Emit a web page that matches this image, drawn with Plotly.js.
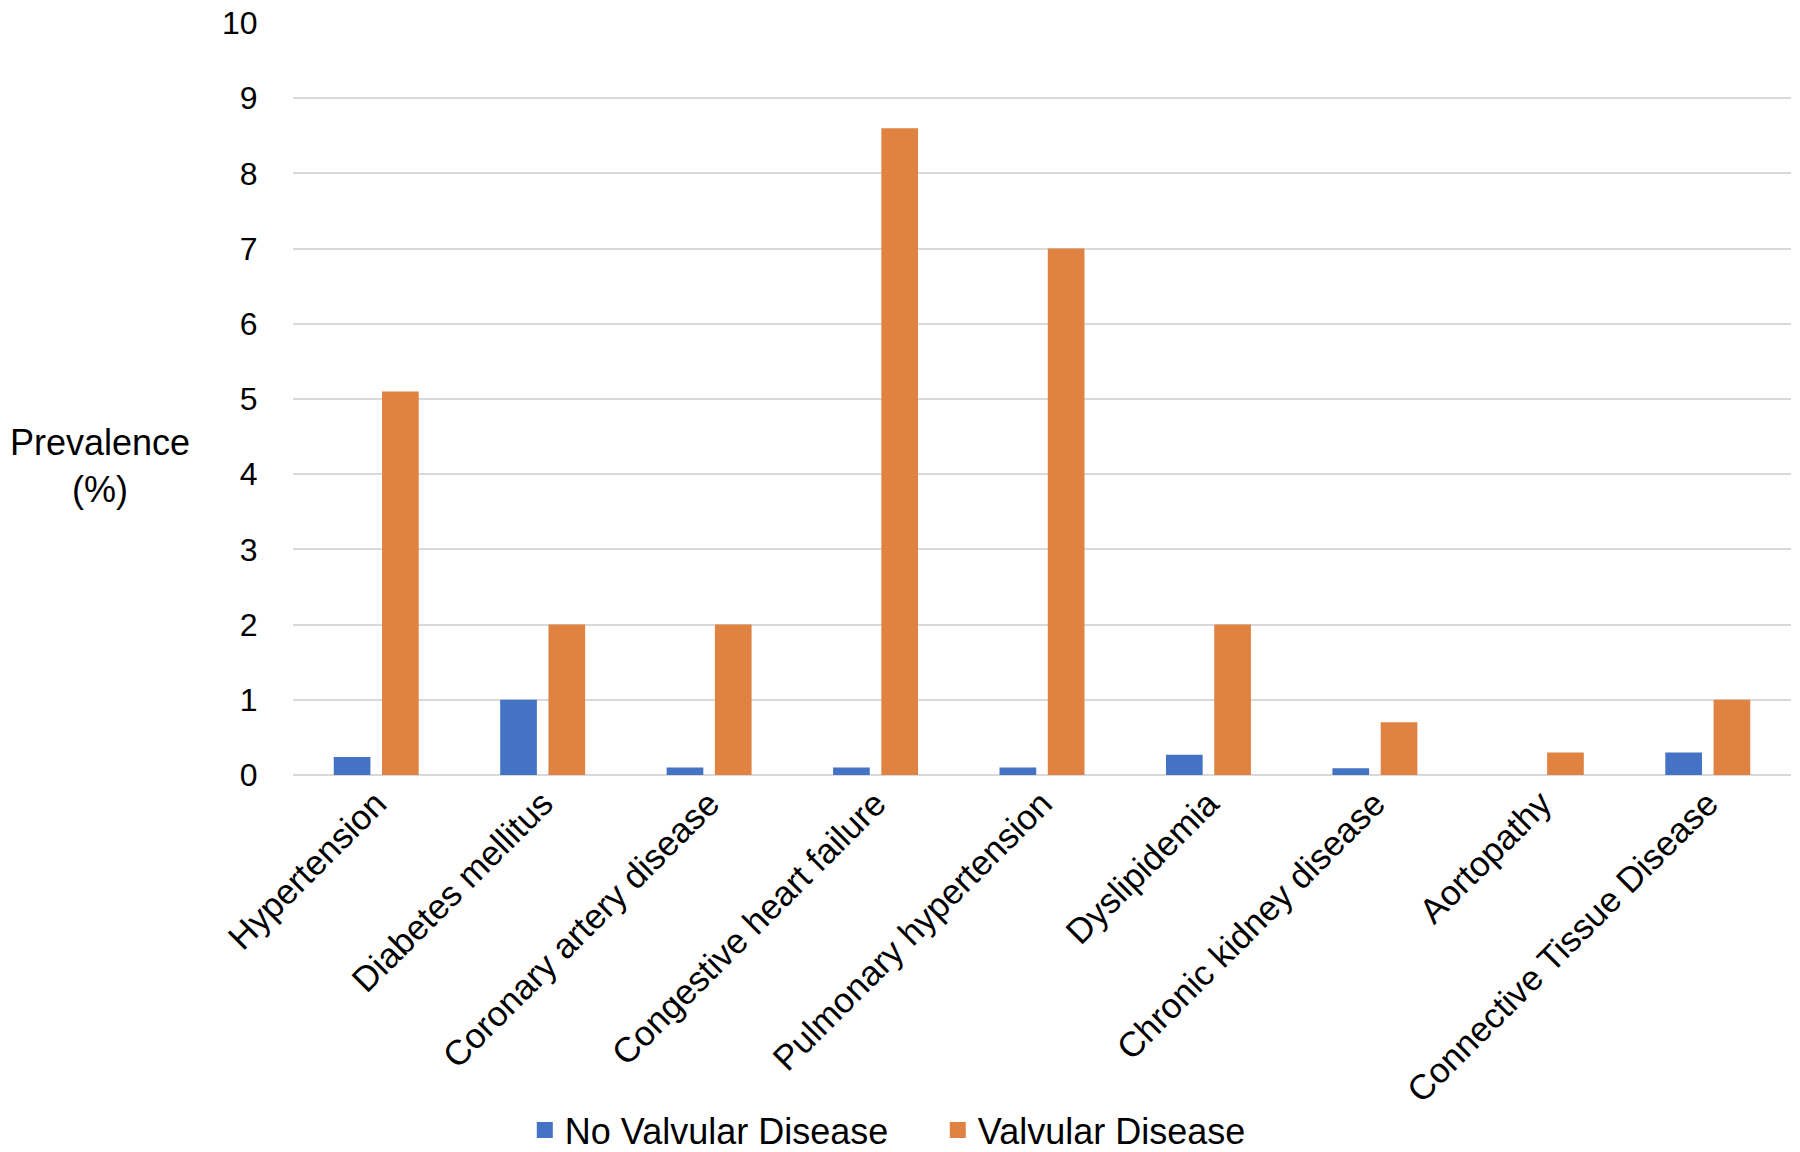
<!DOCTYPE html>
<html>
<head>
<meta charset="utf-8">
<script src="https://cdn.plot.ly/plotly-3.0.1.min.js"></script>
<style>html,body{margin:0;padding:0;background:#fff;}#chart{width:1800px;height:1152px;}</style>
</head>
<body>
<div id="chart"></div>
<script>
const categories = ["Hypertension", "Diabetes mellitus", "Coronary artery disease", "Congestive heart failure",
  "Pulmonary hypertension", "Dyslipidemia", "Chronic kidney disease", "Aortopathy", "Connective Tissue Disease"];
const noValvular = [0.24, 1.0, 0.1, 0.1, 0.1, 0.27, 0.09, 0, 0.3];
const valvular = [5.1, 2.0, 2.0, 8.6, 7.0, 2.0, 0.7, 0.3, 1.0];
const seriesNames = ["No Valvular Disease", "Valvular Disease"];
const seriesColors = ["#4472C4", "#E08242"];
const yTicks = [0, 1, 2, 3, 4, 5, 6, 7, 8, 9, 10];

const FONT = "Liberation Sans, Arial, Helvetica, sans-serif";

const traces = [
  {type: "bar", name: seriesNames[0], x: categories, y: noValvular, marker: {color: seriesColors[0]}, showlegend: false},
  {type: "bar", name: seriesNames[1], x: categories, y: valvular, marker: {color: seriesColors[1]}, showlegend: false},
  // legend entries with larger square symbols
  {type: "scatter", mode: "markers", name: seriesNames[0], x: [null], y: [null],
    marker: {symbol: "square", size: 16, color: seriesColors[0]}},
  {type: "scatter", mode: "markers", name: seriesNames[1], x: [null], y: [null],
    marker: {symbol: "square", size: 16, color: seriesColors[1]}}
];

const layout = {
  width: 1800, height: 1152,
  margin: {l: 293, r: 9, t: 23, b: 377},
  paper_bgcolor: "#fff", plot_bgcolor: "#fff",
  barmode: "group", bargap: 0.42, bargroupgap: 0.24,
  font: {family: FONT, color: "#000", size: 32},
  showlegend: true,
  legend: {orientation: "h", xref: "container", yref: "container", x: 0.521, xanchor: "center",
    y: 0.019, yanchor: "middle", font: {size: 36, family: FONT}, itemwidth: 30,
    entrywidth: 368, traceorder: "normal", itemsizing: "trace"},
  xaxis: {
    type: "category", tickangle: -45, showgrid: false, zeroline: false, showline: false,
    ticks: "", tickfont: {size: 35, family: FONT}
  },
  yaxis: {
    range: [0, 10], tickvals: yTicks, ticktext: yTicks.map(String),
    showgrid: true, gridcolor: "#d9d9d9", gridwidth: 2,
    zeroline: true, zerolinecolor: "#d9d9d9", zerolinewidth: 2,
    showline: false, ticks: "outside", ticklen: 28, tickcolor: "rgba(0,0,0,0)",
    tickfont: {size: 32, family: FONT}
  },
  annotations: [{
    text: "Prevalence<br>(%)", xref: "paper", yref: "paper", x: -0.129, y: 0.411,
    xanchor: "center", yanchor: "middle", showarrow: false, align: "center",
    font: {size: 36, family: FONT}
  }]
};

Plotly.newPlot("chart", traces, layout, {displayModeBar: false, staticPlot: true});
</script>
</body>
</html>
